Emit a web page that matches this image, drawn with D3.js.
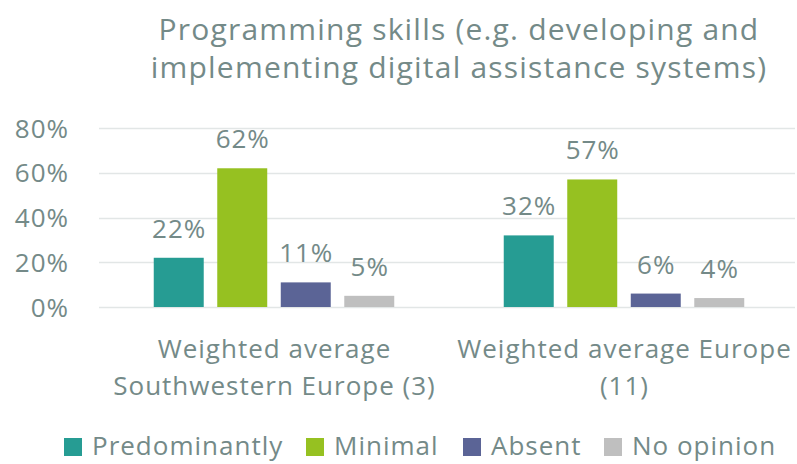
<!DOCTYPE html>
<html><head><meta charset="utf-8">
<script src="https://cdn.jsdelivr.net/npm/d3@7"></script>
<style>html,body{margin:0;padding:0;background:#fff;}svg{display:block;}</style>
</head><body>
<svg id="chart" width="797" height="464"></svg>
<script>
const titleLines = ["Programming skills (e.g. developing and", "implementing digital assistance systems)"];
const categories = ["Weighted average Southwestern Europe (3)", "Weighted average Europe (11)"];
const categoryLines = [["Weighted average", "Southwestern Europe (3)"], ["Weighted average Europe", "(11)"]];
const seriesNames = ["Predominantly", "Minimal", "Absent", "No opinion"];
const seriesColors = ["#269C93", "#96C121", "#5B6496", "#BFBFBF"];
const predominantly = [22, 32];
const minimal = [62, 57];
const absent = [11, 6];
const noOpinion = [5, 4];
const yTicks = [0, 20, 40, 60, 80];

const values = [predominantly, minimal, absent, noOpinion];
const textColor = "#748A88";
const font = "'Open Sans', Lato, sans-serif";
const fs = 26, ls = 1;

const svg = d3.select("#chart");
const left = 99, right = 799, y0 = 307, y80 = 128;
const x = d3.scaleBand().domain(categories).range([left, right]).paddingInner(0).paddingOuter(0);
const xs = d3.scaleBand().domain(seriesNames).range([0, x.bandwidth()]).paddingInner(0.213).paddingOuter(0.862);
const y = d3.scaleLinear().domain([0, 80]).range([y0, y80]);

const grid = svg.append("g");
grid.selectAll("line").data(yTicks).join("line")
  .attr("x1", left).attr("x2", right - 4)
  .attr("y1", d => Math.round(y(d)) + 0.5).attr("y2", d => Math.round(y(d)) + 0.5)
  .attr("stroke", "#E2E6E6").attr("stroke-width", 1.5);

const yAxis = d3.axisLeft(y).tickValues(yTicks).tickFormat(d => d + "%").tickSize(0).tickPadding(0);
const ya = svg.append("g").attr("transform", `translate(69,0)`).call(yAxis);
ya.select(".domain").remove();
ya.selectAll("text").attr("font-family", font).attr("font-size", fs).attr("letter-spacing", ls)
  .attr("fill", textColor).attr("dy", "0.35em");

function centered(sel) {
  return sel.attr("text-anchor", "middle").attr("dx", ls / 2);
}

const groups = svg.append("g").selectAll("g").data(categories).join("g")
  .attr("transform", d => `translate(${x(d)},0)`);
groups.each(function(cat, ci) {
  const g = d3.select(this);
  seriesNames.forEach((s, si) => {
    const v = values[si][ci];
    g.append("rect")
      .attr("x", xs(s)).attr("width", xs.bandwidth())
      .attr("y", y(v)).attr("height", y(0) - y(v))
      .attr("fill", seriesColors[si]);
    centered(g.append("text")
      .attr("x", xs(s) + xs.bandwidth() / 2).attr("y", y(v) - 20))
      .attr("font-family", font).attr("font-size", fs).attr("letter-spacing", ls).attr("fill", textColor)
      .text(v + "%");
  });
  categoryLines[ci].forEach((line, li) => {
    centered(g.append("text")
      .attr("x", x.bandwidth() / 2).attr("y", 358 + li * 37))
      .attr("font-family", font).attr("font-size", fs).attr("letter-spacing", ls).attr("fill", textColor)
      .text(line);
  });
});

svg.append("g").selectAll("text").data(titleLines).join("text")
  .attr("x", 459).attr("y", (d, i) => 40 + i * 38)
  .attr("text-anchor", "middle")
  .attr("font-family", font).attr("font-size", 30).attr("letter-spacing", 1.2).attr("fill", textColor)
  .text(d => d);

const legendX = [64, 306, 463, 604];
const lg = svg.append("g").selectAll("g").data(seriesNames).join("g")
  .attr("transform", (d, i) => `translate(${legendX[i]},438)`);
lg.append("rect").attr("width", 18).attr("height", 18).attr("fill", (d, i) => seriesColors[i]);
lg.append("text").attr("x", 28).attr("y", 17)
  .attr("font-family", font).attr("font-size", fs).attr("letter-spacing", ls).attr("fill", textColor)
  .text(d => d);
</script>
</body></html>
